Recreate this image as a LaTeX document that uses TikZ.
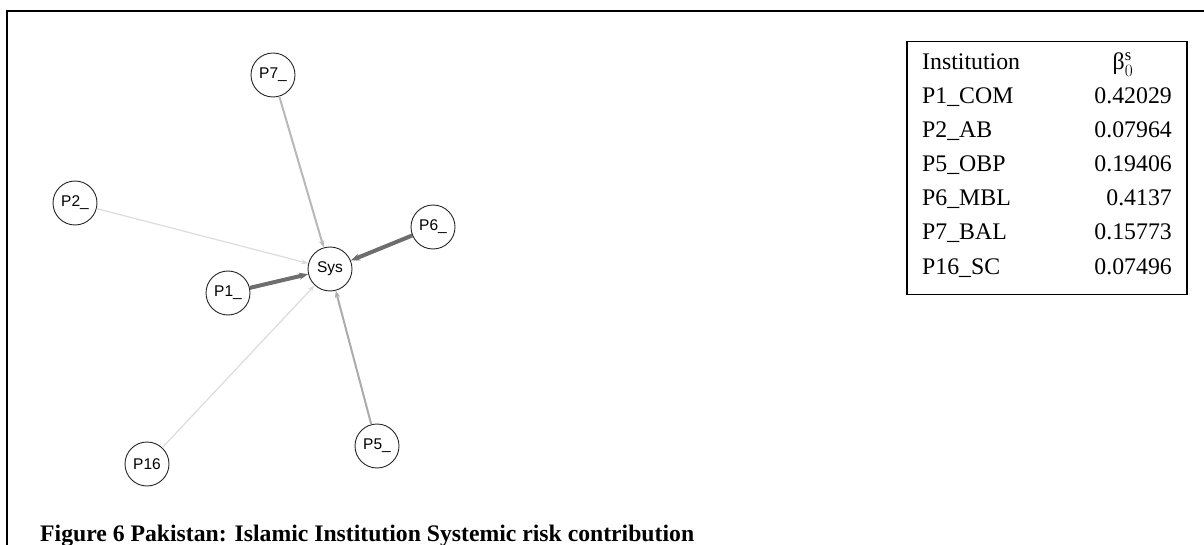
\documentclass[tikz,border=0pt]{standalone}
\usepackage{fontspec}
\setmainfont{Liberation Serif}
\newfontfamily\nodefont{Liberation Sans}
\usetikzlibrary{arrows.meta}
\definecolor{strongcol}{HTML}{6E6E6E}
\definecolor{midcol}{HTML}{ABABAB}
\definecolor{weakcol}{HTML}{DCDCDC}
\tikzset{
  inst/.style={draw=black!85, circle, line width=0.9pt, fill=white,
    minimum size=44pt, inner sep=0pt, font=\nodefont\fontsize{15.5}{15.5}\selectfont},
  edge/.style={-{Stealth[length=#1]}},
  strong/.style={edge=9pt, line width=4pt, strongcol},
  mid/.style={edge=7pt, line width=2pt, midcol},
  weak/.style={edge=7pt, line width=1.2pt, weakcol},
  frame/.style={draw=black, line width=2pt},
  tabbox/.style={draw=black, line width=1.6pt, minimum width=280pt,
    minimum height=253pt, inner sep=0pt},
  cell/.style={font=\fontsize{23.8}{23.8}\selectfont, inner sep=0pt}}
\begin{document}
\begin{tikzpicture}[x=1pt, y=-1pt]
    \useasboundingbox (0,0) rectangle (1204,545);
    \draw[frame] (1204,11) -- (7,11) -- (7,545);
    % network
    \node[inst] (sys) at (330,269) {Sys};
    \node[inst] (p7)  at (273,75)  {P7\_};
    \node[inst] (p2)  at (75,203)  {P2\_};
    \node[inst] (p6)  at (433,227) {P6\_};
    \node[inst] (p1)  at (228,293) {P1\_};
    \node[inst] (p16) at (147,464) {P16};
    \node[inst] (p5)  at (377,446) {P5\_};
    \draw[strong] (p1) -- (sys);
    \draw[strong] (p6) -- (sys);
    \draw[mid] (p5) -- (sys);
    \draw[mid, black!28] (p7) -- (sys);
    \draw[weak] (p2) -- (sys);
    \draw[weak] (p16) -- (sys);
    % table
    \node[tabbox] (tab) at (1047,168) {};
    \node[cell, anchor=base west] (head) at (922,70) {Institution};
    \node[cell, anchor=base] (beta) at (1123,70) {β$^{\mathrm{s}}_{0}$};
    \foreach \lab/\val [count=\i] in {P1\_COM/0.42029, P2\_AB/0.07964,
        P5\_OBP/0.19406, P6\_MBL/0.4137, P7\_BAL/0.15773, P16\_SC/0.07496} {
      \node[cell, anchor=base west] (lab\i) at (922,70+34*\i) {\lab};
      \node[cell, anchor=base east] (val\i) at (1172,70+34*\i) {\val};
    }
    \node[anchor=base west, inner sep=0pt, font=\bfseries\fontsize{23.7}{23.7}\selectfont]
      (cap) at (40,541) {Figure 6 Pakistan: Islamic Institution Systemic risk contribution};
\end{tikzpicture}
\end{document}
